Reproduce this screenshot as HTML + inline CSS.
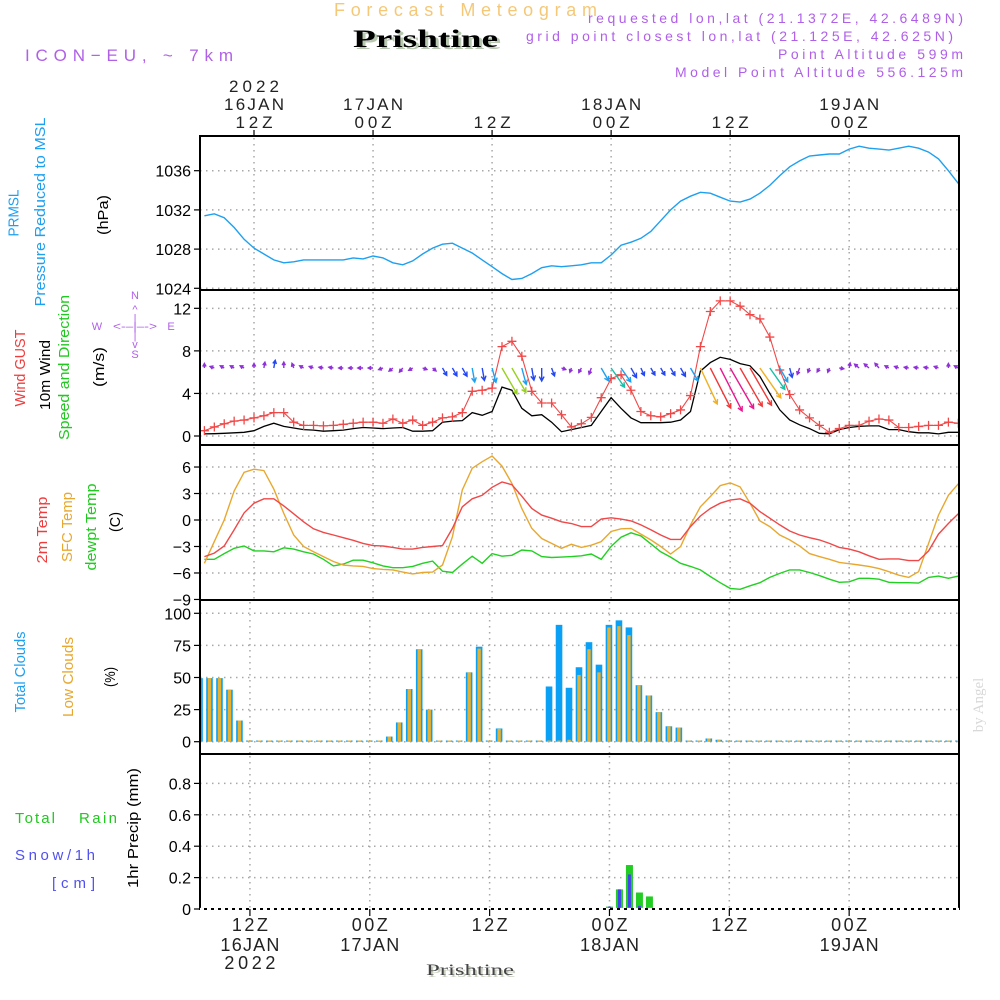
<!DOCTYPE html>
<html><head><meta charset="utf-8">
<style>
body{margin:0;background:#fff}
svg{display:block}
text{font-family:"Liberation Sans",sans-serif}
.serif{font-family:"Liberation Serif",serif}
</style></head>
<body>
<svg id="chart" width="1000" height="1000" viewBox="0 0 1000 1000" xmlns="http://www.w3.org/2000/svg">
<rect x="0" y="0" width="1000" height="1000" fill="#fff"/>
<!-- header -->
<text x="334" y="16" font-size="18" fill="#f5c878" textLength="263" lengthAdjust="spacing">Forecast Meteogram</text>
<text x="356" y="49" class="serif" font-size="25" font-weight="bold" fill="#b8c8b0" textLength="145" lengthAdjust="spacingAndGlyphs">Prishtine</text>
<text x="353" y="47" class="serif" font-size="25" font-weight="bold" fill="#000" textLength="145" lengthAdjust="spacingAndGlyphs">Prishtine</text>
<text x="25" y="61" font-size="17" fill="#b060e8" textLength="208" lengthAdjust="spacing">ICON−EU, ~ 7km</text>
<text x="963" y="23" font-size="14" fill="#b060e8" text-anchor="end" textLength="375" lengthAdjust="spacing">requested lon,lat (21.1372E, 42.6489N)</text>
<text x="953" y="41" font-size="14" fill="#b060e8" text-anchor="end" textLength="427" lengthAdjust="spacing">grid point closest lon,lat (21.125E, 42.625N)</text>
<text x="963" y="59" font-size="14" fill="#b060e8" text-anchor="end" textLength="185" lengthAdjust="spacing">Point Altitude 599m</text>
<text x="963" y="77" font-size="14" fill="#b060e8" text-anchor="end" textLength="288" lengthAdjust="spacing">Model Point Altitude 556.125m</text>

<!-- left labels -->
<g font-size="15">
<text transform="translate(18.5,213) rotate(-90)" text-anchor="middle" fill="#1ea0f0" textLength="47" lengthAdjust="spacingAndGlyphs">PRMSL</text>
<text transform="translate(45,212) rotate(-90)" text-anchor="middle" fill="#1ea0f0" textLength="189" lengthAdjust="spacingAndGlyphs">Pressure Reduced to MSL</text>
<text transform="translate(108,215) rotate(-90)" text-anchor="middle" fill="#000" textLength="40" lengthAdjust="spacingAndGlyphs">(hPa)</text>
<text transform="translate(25,368) rotate(-90)" text-anchor="middle" fill="#f03c3c" textLength="77" lengthAdjust="spacingAndGlyphs">Wind GUST</text>
<text transform="translate(50,375) rotate(-90)" text-anchor="middle" fill="#000" textLength="70" lengthAdjust="spacingAndGlyphs">10m Wind</text>
<text transform="translate(69,367.5) rotate(-90)" text-anchor="middle" fill="#20c820" textLength="145" lengthAdjust="spacingAndGlyphs">Speed and Direction</text>
<text transform="translate(104,367) rotate(-90)" text-anchor="middle" fill="#000" textLength="40" lengthAdjust="spacingAndGlyphs">(m/s)</text>
<text transform="translate(47,530) rotate(-90)" text-anchor="middle" fill="#f03c3c" textLength="67" lengthAdjust="spacingAndGlyphs">2m Temp</text>
<text transform="translate(72,527) rotate(-90)" text-anchor="middle" fill="#e8a830" textLength="70" lengthAdjust="spacingAndGlyphs">SFC Temp</text>
<text transform="translate(96,527) rotate(-90)" text-anchor="middle" fill="#20c820" textLength="87" lengthAdjust="spacingAndGlyphs">dewpt Temp</text>
<text transform="translate(120,522) rotate(-90)" text-anchor="middle" fill="#000" textLength="20" lengthAdjust="spacingAndGlyphs">(C)</text>
<text transform="translate(25,672) rotate(-90)" text-anchor="middle" fill="#1ea0f0" textLength="81" lengthAdjust="spacingAndGlyphs">Total Clouds</text>
<text transform="translate(73,677) rotate(-90)" text-anchor="middle" fill="#e8a830" textLength="80" lengthAdjust="spacingAndGlyphs">Low Clouds</text>
<text transform="translate(115,677) rotate(-90)" text-anchor="middle" fill="#000" textLength="20" lengthAdjust="spacingAndGlyphs">(%)</text>
<text transform="translate(138,828) rotate(-90)" text-anchor="middle" fill="#000" textLength="120" lengthAdjust="spacingAndGlyphs">1hr Precip (mm)</text>
</g>
<g font-size="15">
<text x="15" y="823" fill="#20c820" textLength="40" lengthAdjust="spacing">Total</text>
<text x="79" y="823" fill="#20c820" textLength="38" lengthAdjust="spacing">Rain</text>
<text x="15" y="860" fill="#5050f0" textLength="80" lengthAdjust="spacing">Snow/1h</text>
<text x="52" y="888" fill="#5050f0" textLength="43" lengthAdjust="spacing">[cm]</text>
</g>
<!-- compass -->
<g font-size="11" fill="#b060e8" text-anchor="middle" dominant-baseline="central">
<text x="135" y="296">N</text>
<text x="135" y="310">^</text>
<text x="135" y="319">|</text>
<text x="97" y="327">W</text>
<text x="135" y="327" textLength="44" lengthAdjust="spacingAndGlyphs">&lt;-–|–-&gt;</text>
<text x="171" y="327">E</text>
<text x="135" y="336">|</text>
<text x="135" y="345">v</text>
<text x="135" y="355">S</text>
</g>
<text transform="translate(983,705) rotate(-90)" text-anchor="middle" class="serif" font-size="15" fill="#d8d8d8">by Angel</text>
<text x="428" y="977" class="serif" font-size="16" fill="#c8d0c0" textLength="88" lengthAdjust="spacingAndGlyphs">Prishtine</text>
<text x="426" y="975" class="serif" font-size="16" fill="#444" textLength="88" lengthAdjust="spacingAndGlyphs">Prishtine</text>
<defs>
<clipPath id="clipP"><rect x="200" y="136" width="759" height="154"/></clipPath>
<clipPath id="clipW"><rect x="200" y="290" width="759" height="155"/></clipPath>
<clipPath id="clipT"><rect x="200" y="445" width="759" height="155"/></clipPath>
<clipPath id="clipC"><rect x="200" y="600" width="759" height="154"/></clipPath>
<clipPath id="clipR"><rect x="200" y="754" width="759" height="155"/></clipPath>
</defs>
<g id="plot"></g>
</svg>
<script>
const hours=[7,8,9,10,11,12,13,14,15,16,17,18,19,20,21,22,23,24,25,26,27,28,29,30,31,32,33,34,35,36,37,38,39,40,41,42,43,44,45,46,47,48,49,50,51,52,53,54,55,56,57,58,59,60,61,62,63,64,65,66,67,68,69,70,71,72,73,74,75,76,77,78,79,80,81,82,83];
const pressure=[1031.4,1031.6,1031.2,1030.2,1029.0,1028.1,1027.5,1026.9,1026.6,1026.7,1026.9,1026.9,1026.9,1026.9,1026.9,1027.1,1027.0,1027.3,1027.1,1026.6,1026.4,1026.8,1027.5,1028.1,1028.5,1028.6,1028.1,1027.6,1026.9,1026.2,1025.5,1024.9,1025.0,1025.5,1026.1,1026.3,1026.2,1026.3,1026.4,1026.6,1026.6,1027.4,1028.4,1028.7,1029.1,1029.8,1030.9,1032.0,1032.9,1033.4,1033.8,1033.7,1033.3,1032.9,1032.8,1033.1,1033.7,1034.5,1035.5,1036.4,1037.0,1037.5,1037.6,1037.7,1037.7,1038.2,1038.5,1038.3,1038.2,1038.1,1038.3,1038.5,1038.3,1037.9,1037.2,1036.0,1034.7];
const windGust=[0.5,0.85,1.15,1.4,1.5,1.7,1.9,2.2,2.2,1.3,1.0,1.0,0.95,1.0,1.1,1.2,1.3,1.3,1.2,1.6,1.2,1.5,1.0,1.3,1.7,1.8,2.2,4.2,4.3,4.5,8.4,8.9,7.5,4.2,3.1,3.1,2.0,0.85,1.15,1.75,3.6,5.4,5.75,4.3,2.3,1.9,1.8,2.1,2.45,3.8,8.4,11.7,12.7,12.7,12.2,11.4,11.0,9.3,6.2,3.9,2.45,1.7,1.0,0.35,0.7,1.0,1.0,1.4,1.6,1.5,0.8,0.8,0.9,1.0,1.0,1.3,1.2];
const windSpeed=[0.2,0.22,0.25,0.3,0.35,0.5,0.9,1.2,0.9,0.75,0.6,0.55,0.45,0.5,0.55,0.7,0.8,0.75,0.7,0.75,0.8,0.45,0.45,0.5,1.3,1.4,1.45,2.2,1.95,2.3,4.6,4.3,2.6,1.9,2.0,1.3,0.4,0.6,0.8,1.0,2.3,3.6,2.6,1.7,1.25,1.25,1.25,1.3,1.5,2.3,6.1,6.9,7.4,7.2,6.8,6.6,5.6,4.0,2.45,1.5,1.05,0.7,0.25,0.2,0.6,0.8,0.9,0.95,0.95,0.6,0.6,0.4,0.3,0.3,0.2,0.35,0.35];
const windDir=[0,290,300,300,300,0,10,10,0,340,300,290,280,280,270,270,270,270,250,230,220,240,110,130,150,150,150,170,170,165,150,150,165,170,180,160,110,200,210,200,150,145,145,150,155,150,150,150,150,150,155,153,153,150,150,150,145,145,150,165,200,200,210,200,100,10,310,310,320,300,290,280,280,280,290,0,300];
const temp2m=[-4.15,-3.75,-2.95,-1.1,0.8,1.9,2.4,2.4,1.6,0.7,-0.2,-1.0,-1.4,-1.7,-2.0,-2.3,-2.65,-2.9,-2.95,-3.1,-3.3,-3.3,-3.1,-3.0,-2.9,-0.95,1.5,2.4,2.8,3.7,4.3,4.0,2.7,1.3,0.55,0.2,-0.2,-0.4,-0.75,-0.75,0.1,0.25,0.1,-0.1,-0.55,-1.1,-1.7,-2.2,-2.2,-0.75,0.45,1.3,1.9,2.25,2.4,1.9,0.95,0.2,-0.55,-1.25,-1.7,-2.0,-2.25,-2.65,-3.1,-3.3,-3.6,-4.05,-4.45,-4.4,-4.4,-4.6,-4.6,-3.5,-1.6,-0.4,0.7];
const tempSfc=[-4.9,-2.45,0,3.3,5.4,5.75,5.6,3.5,0.75,-1.7,-3.0,-3.6,-4.15,-4.7,-5.1,-5.2,-5.25,-5.5,-5.6,-5.65,-5.9,-6.1,-5.95,-5.9,-5.1,-1.9,3.4,5.85,6.6,7.25,6.1,4.15,1.3,-0.95,-2.1,-2.65,-3.2,-2.75,-3.1,-2.85,-2.45,-1.3,-1.0,-0.95,-1.6,-2.25,-3.0,-3.85,-3.0,-0.55,1.5,2.65,3.9,4.2,3.75,1.9,-0.1,-0.75,-1.7,-2.25,-2.95,-3.8,-4.15,-4.45,-4.8,-4.95,-5.1,-5.25,-5.5,-5.85,-6.25,-6.5,-5.85,-2.65,0.55,2.8,4.1];
const dewpt=[-4.45,-4.45,-3.8,-3.2,-2.95,-3.5,-3.5,-3.6,-3.15,-3.3,-3.6,-3.85,-4.45,-5.2,-5.0,-4.55,-4.55,-4.85,-5.2,-5.4,-5.4,-5.25,-4.9,-4.65,-5.8,-5.95,-5.0,-4.1,-4.9,-3.8,-4.1,-4.0,-3.4,-3.5,-4.15,-4.25,-4.2,-4.15,-4.05,-3.85,-4.45,-3.0,-1.95,-1.45,-1.8,-2.7,-3.6,-4.2,-4.9,-5.25,-5.65,-6.4,-7.1,-7.75,-7.85,-7.45,-7.1,-6.5,-6.05,-5.65,-5.65,-5.95,-6.3,-6.7,-7.05,-7.0,-6.6,-6.6,-6.7,-7.05,-7.1,-7.1,-7.15,-6.5,-6.35,-6.6,-6.35];
const cloudTotal=[49.5,49.5,49.5,40.5,16.5,0,0,0,0,0,0,0,0,0,0,0,0,0,0,4,15,41,72,25,0,0,0,54,74,0,10.3,0,0,0,0,43,91,42,58,77.5,60,91,94.5,89,44,36,23,12,11,0,0,2.5,1.5,0,0,0,0,0,0,0,0,0,0,0,0,0,0,0,0,0,0,0,0,0,0,0,0];
const cloudLow=[49.5,49.5,49.5,40.5,16.5,0,0,0,0,0,0,0,0,0,0,0,0,0,0,4,15,41,72,25,0,0,0,54,72.5,0,10,0,0,0,0,0,0.5,1.5,52,72,54,89,90,83,44,36,23,12,11,0,0,2.5,1.5,0,0,0,0,0,0,0,0,0,0,0,0,0,0,0,0,0,0,0,0,0,0,0,0];
const precipHours=[48,49,50,51,52];
const precipTotal=[0.015,0.125,0.28,0.105,0.08];
const precipSnow=[0.015,0.125,0.22,0.02,0];
const pTicks=[1024,1028,1032,1036];
const wTicks=[0,4,8,12];
const tTicks=[-9,-6,-3,0,3,6];
const cTicks=[0,25,50,75,100];
const rTicks=[0,0.2,0.4,0.6,0.8];
const rTickLabels=["0","0.2","0.4","0.6","0.8"];
const gridHours=[12,24,36,48,60,72];
const topTimeLabels=["12Z","00Z","12Z","00Z","12Z","00Z"];
const topDateLabels=["16JAN","17JAN","","18JAN","","19JAN"];

const NS="http://www.w3.org/2000/svg";
const plot=document.getElementById('plot');
function mk(tag,attrs,parent){const e=document.createElementNS(NS,tag);for(const k in attrs)e.setAttribute(k,attrs[k]);(parent||plot).appendChild(e);return e;}
const xL=h=>204.4+(h-7)*9.92;
const xB=h=>200+(h-7)*9.987;
const yP=p=>288.3-(p-1024)*9.8;
const yW=v=>436-v*10.64;
const yT=t=>520-t*8.83;
const yC=c=>741.7-c*1.284;
const yR=r=>909-r*157;
const L=200,R=959;
const panels=[{t:136,b:290,x:xL,n:'pressure'},{t:290,b:445,x:xL,n:'wind'},{t:445,b:600,x:xL,n:'temperature'},{t:600,b:754,x:xB,n:'clouds'},{t:754,b:909,x:xB,n:'precip'}];
const gridStyle={stroke:'#a8a8a8','stroke-width':1.5,'stroke-dasharray':'1.5,4.5'};

panels.forEach(p=>{
  gridHours.forEach(h=>{
    const g=mk('line',Object.assign({x1:p.x(h),x2:p.x(h),y1:p.t+2,y2:p.b-1},gridStyle));
    
    
  });
});
function yAxis(ticks,labels,yf,name,skipGrid){
  ticks.forEach((v,i)=>{
    const y=yf(v);
    if(!skipGrid||!skipGrid(v)){
      const g=mk('line',Object.assign({x1:L,x2:R,y1:y,y2:y},gridStyle));
      
      
    }
    const tk=mk('line',{x1:194,x2:200,y1:y,y2:y,stroke:'#000','stroke-width':1.2});
    
    
    const tx=mk('text',{x:191,y:y+6,'font-size':16,'text-anchor':'end',fill:'#000'});
    
    
    tx.textContent=labels[i];
  });
}
yAxis(pTicks,pTicks.map(String),yP,'pressure-axis');
yAxis(wTicks,wTicks.map(String),yW,'wind-axis');
yAxis(tTicks,tTicks.map(v=>v<0?'−'+(-v):String(v)),yT,'temp-axis',v=>v===-9);
yAxis(cTicks,cTicks.map(String),yC,'cloud-axis');
yAxis(rTicks,rTickLabels,yR,'precip-axis',v=>v===0);

function linePath(vals,xf,yf){return vals.map((v,i)=>(i?'L':'M')+xf(hours[i]).toFixed(1)+','+yf(v).toFixed(1)).join('');}
const gP=mk('g',{'clip-path':'url(#clipP)'});
const pl=mk('path',{d:linePath(pressure,xL,yP),fill:'none',stroke:'#1ea0f0','stroke-width':1.4},gP);



const gW=mk('g',{'clip-path':'url(#clipW)'});
const wl=mk('path',{d:linePath(windSpeed,xL,yW),fill:'none',stroke:'#000','stroke-width':1.3},gW);


const gl=mk('path',{d:linePath(windGust,xL,yW),fill:'none',stroke:'#f04848','stroke-width':1.1},gW);


windGust.forEach((v,i)=>{
  const x=xL(hours[i]),y=yW(v);
  const m=mk('path',{d:`M${x-4.5},${y}H${x+4.5}M${x},${y-4.5}V${y+4.5}`,stroke:'#f04848','stroke-width':1.3},gW);
  
  
});
function arrowColor(v){
  if(v<1.1)return '#9030d8';
  if(v<2.1)return '#2448f0';
  if(v<2.7)return '#1ea0f0';
  if(v<4.2)return '#18c0a8';
  if(v<5.0)return '#98d020';
  if(v<6.3)return '#f0b020';
  if(v<7.0)return '#f03838';
  return '#e81890';
}
windSpeed.forEach((v,i)=>{
  const x0=xL(hours[i]),y0=368;
  const len=Math.max(4.5,6.5*v);
  const a=windDir[i]*Math.PI/180;
  const ux=Math.sin(a),uy=-Math.cos(a);
  const x1=x0+ux*len,y1=y0+uy*len;
  const hl=Math.min(5,Math.max(3.5,len*0.5));
  const ang=0.5;
  const bx=-ux,by=-uy;
  const h1x=x1+hl*(bx*Math.cos(ang)-by*Math.sin(ang)),h1y=y1+hl*(bx*Math.sin(ang)+by*Math.cos(ang));
  const h2x=x1+hl*(bx*Math.cos(-ang)-by*Math.sin(-ang)),h2y=y1+hl*(bx*Math.sin(-ang)+by*Math.cos(-ang));
  const ar=mk('path',{d:`M${x0.toFixed(1)},${y0}L${x1.toFixed(1)},${y1.toFixed(1)}M${h1x.toFixed(1)},${h1y.toFixed(1)}L${x1.toFixed(1)},${y1.toFixed(1)}L${h2x.toFixed(1)},${h2y.toFixed(1)}`,fill:'none',stroke:arrowColor(v),'stroke-width':1.4},gW);
  
  
});

const gT=mk('g',{'clip-path':'url(#clipT)'});
[[dewpt,'#22d022','dewpoint-line'],[tempSfc,'#e8a830','sfc-temp-line'],[temp2m,'#f04848','temp-2m-line']].forEach(s=>{
  const e=mk('path',{d:linePath(s[0],xL,yT),fill:'none',stroke:s[1],'stroke-width':1.4},gT);
  
  
});

const gC=mk('g',{'clip-path':'url(#clipC)'});
cloudTotal.forEach((v,i)=>{
  const x=xB(hours[i])-0.5;
  const y=Math.min(yC(v),yC(0)-1.2);
  const b=mk('rect',{x:x-3.3,y:y,width:6.6,height:yC(0)-y,fill:'#0aa0f5'},gC);
  
  
});
cloudLow.forEach((v,i)=>{
  const x=xB(hours[i])-0.5;
  const y=Math.min(yC(v),yC(0)-1.2);
  const b=mk('rect',{x:x-1.7,y:y,width:3.4,height:yC(0)-y,fill:'#e8b030'},gC);
  
  
});

const gR=mk('g',{'clip-path':'url(#clipR)'});
precipHours.forEach((h,i)=>{
  const x=xB(h);
  const y=yR(precipTotal[i]);
  const b=mk('rect',{x:x-3.5,y:y,width:7,height:yR(0)-y,fill:'#22cc22'},gR);
  
  
  if(precipSnow[i]>0){
    const ys=yR(precipSnow[i]);
    const s=mk('rect',{x:x-1.5,y:ys,width:3,height:yR(0)-ys,fill:'#4444ee'},gR);
    
    
  }
});

panels.forEach(p=>{
  const f=mk('rect',{x:L,y:p.t,width:R-L,height:p.b-p.t,fill:'none',stroke:'#000','stroke-width':2});
  
  
});
const bl=mk('line',{x1:L,x2:R,y1:909,y2:909,stroke:'#fff','stroke-width':2.2,'stroke-dasharray':'4,3'});



gridHours.forEach((h,i)=>{
  const x=xL(h);
  const t=mk('line',{x1:x,x2:x,y1:130,y2:136,stroke:'#000','stroke-width':1.2});
  
  
  const a=mk('text',{x:x,y:128,'font-size':17,'text-anchor':'middle',fill:'#222',textLength:37,lengthAdjust:'spacing'});
  
  
  a.textContent=topTimeLabels[i];
  if(topDateLabels[i]){
    const d=mk('text',{x:x,y:110,'font-size':17,'text-anchor':'middle',fill:'#222',textLength:60,lengthAdjust:'spacing'});
    
    
    d.textContent=topDateLabels[i];
  }
  const xb=xB(h);
  const bt=mk('line',{x1:xb,x2:xb,y1:909,y2:916,stroke:'#000','stroke-width':1.2});
  
  
  const ba=mk('text',{x:xb,y:931,'font-size':18,'text-anchor':'middle',fill:'#222',textLength:36,lengthAdjust:'spacing'});
  
  
  ba.textContent=topTimeLabels[i];
  if(topDateLabels[i]){
    const bd=mk('text',{x:xb,y:951,'font-size':18,'text-anchor':'middle',fill:'#222',textLength:59,lengthAdjust:'spacing'});
    
    
    bd.textContent=topDateLabels[i];
  }
});
const yTop=mk('text',{x:xL(12),y:92,'font-size':17,'text-anchor':'middle',fill:'#222',textLength:50,lengthAdjust:'spacing'});


yTop.textContent='2022';
const yBot=mk('text',{x:xB(12),y:969,'font-size':18,'text-anchor':'middle',fill:'#222',textLength:51,lengthAdjust:'spacing'});


yBot.textContent='2022';
</script>
</body></html>
